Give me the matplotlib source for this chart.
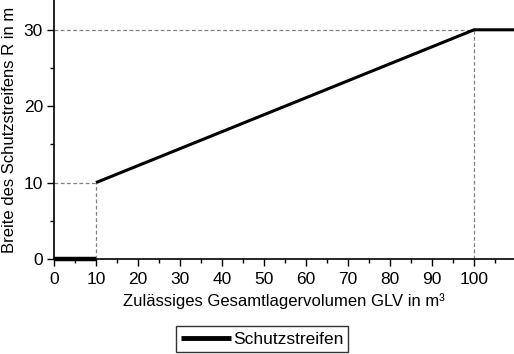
import matplotlib
matplotlib.use("Agg")
import matplotlib.pyplot as plt
from matplotlib.ticker import MultipleLocator

plt.rcParams['font.family'] = ['Liberation Sans', 'DejaVu Sans']

# Data
seg1_x = [0, 10]
seg1_y = [0, 0]
seg2_x = [10, 100, 110]
seg2_y = [10, 30, 30]
x_ticks = [0, 10, 20, 30, 40, 50, 60, 70, 80, 90, 100]
y_ticks = [0, 10, 20, 30]
legend_label = "Schutzstreifen"

fig = plt.figure(figsize=(5.14, 3.54), dpi=100)
ax = fig.add_axes([54/514, 95/354, 1 - 54/514, 1 - 95/354])

# Reference dashed lines
ref_kw = dict(color='#808080', linestyle=(0, (3, 2)), linewidth=0.9, zorder=1)
ax.plot([0, 10], [10, 10], **ref_kw)
ax.plot([10, 10], [0, 10], **ref_kw)
ax.plot([0, 100], [30, 30], **ref_kw)
ax.plot([100, 100], [0, 30], **ref_kw)

ax.plot(seg1_x, seg1_y, color='black', linewidth=3.2, solid_capstyle='butt', zorder=3, clip_on=False)
line, = ax.plot(seg2_x, seg2_y, color='black', linewidth=2.2, solid_capstyle='butt', zorder=3, label=legend_label)

ax.set_xlim(0, 109.5)
ax.set_ylim(0, 33.9)
ax.set_xticks(x_ticks)
ax.set_yticks(y_ticks)
ax.xaxis.set_minor_locator(MultipleLocator(5))
ax.yaxis.set_minor_locator(MultipleLocator(5))
ax.tick_params(which='major', direction='out', length=5, width=1, labelsize=12.5, colors='black')
ax.tick_params(which='minor', direction='out', length=3, width=1)
ax.tick_params(axis='x', pad=4.5)
ax.tick_params(axis='y', pad=3)

for s in ['top', 'right']:
    ax.spines[s].set_visible(False)
for s in ['left', 'bottom']:
    ax.spines[s].set_linewidth(1.2)

ax.set_xlabel("Zulässiges Gesamtlagervolumen GLV in m³", fontsize=12, labelpad=4.5)
ax.set_ylabel("Breite des Schutzstreifens R in m", fontsize=12, labelpad=5)

leg = fig.legend(handles=[line], loc='center', bbox_to_anchor=(262/514, 1 - 339/354),
                 frameon=True, fancybox=False, edgecolor='black', fontsize=12.5,
                 handlelength=2.9, handletextpad=0.1, borderpad=0.3, borderaxespad=0)
leg.get_frame().set_linewidth(1.0)
leg.get_lines()[0].set_linewidth(3.5)

fig.savefig("out.png", dpi=100)
